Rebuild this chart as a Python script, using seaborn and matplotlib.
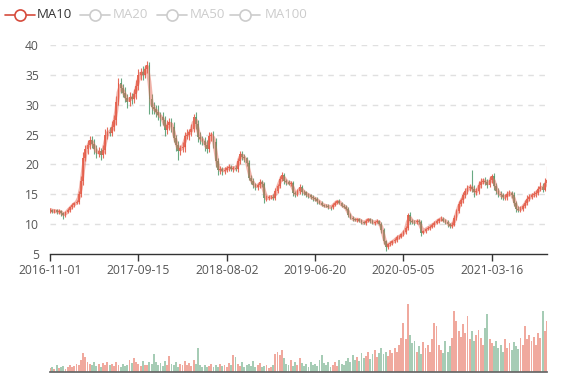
import numpy as np
import pandas as pd
import seaborn as sns
import matplotlib.pyplot as plt
from matplotlib.lines import Line2D

# weekly closes (one point ~ one week)
close = [
    12.4, 12.1, 12.3, 12.0, 12.2, 11.8, 11.5, 12.0, 12.4, 12.8,
    13.2, 13.5, 13.7, 15.0, 17.2, 21.0, 22.5, 23.2, 24.1, 23.5,
    22.6, 21.8, 22.2, 21.6, 22.4, 25.0, 25.5, 25.3, 26.3, 27.4,
    30.5, 33.6, 32.8, 32.0, 31.2, 30.4, 31.3, 30.9, 31.8, 33.2,
    35.0, 35.4, 35.0, 36.0, 36.7, 31.0, 29.6, 29.2, 28.8, 28.2,
    27.9, 27.4, 25.8, 26.6, 27.1, 26.3, 24.5, 23.2, 22.3, 22.7,
    22.9, 24.8, 25.0, 25.4, 26.0, 28.0, 26.8, 24.6, 24.2, 24.0,
    23.2, 22.6, 24.8, 25.0, 23.8, 20.5, 19.0, 19.2, 18.9, 19.1,
    19.4, 19.6, 19.3, 19.4, 19.2, 20.5, 21.8, 21.2, 21.0, 20.2,
    17.8, 17.2, 16.6, 16.2, 16.5, 17.0, 16.7, 14.3, 14.4, 14.5,
    14.6, 14.4, 15.6, 16.4, 17.6, 18.2, 17.3, 17.0, 16.8, 16.9,
    15.2, 15.0, 15.5, 16.2, 15.4, 15.3, 14.9, 14.8, 14.5, 14.3,
    14.2, 13.8, 13.6, 13.2, 13.1, 13.0, 12.9, 12.8, 13.2, 13.6,
    13.9, 13.5, 13.1, 12.9, 12.6, 11.5, 11.1, 10.8, 10.7, 10.8,
    10.6, 10.3, 10.2, 10.6, 10.8, 10.5, 10.2, 10.4, 10.5, 10.1,
    9.0, 7.2, 6.2, 6.6, 6.9, 7.1, 7.4, 7.8, 7.9, 8.3,
    8.7, 9.3, 11.5, 10.6, 10.4, 10.3, 10.5, 10.4, 8.6, 8.9,
    9.2, 9.4, 9.6, 9.9, 10.2, 10.5, 10.8, 10.9, 10.6, 10.4,
    10.0, 9.7, 9.9, 11.0, 12.2, 13.4, 14.0, 14.8, 15.5, 16.0,
    16.3, 15.9, 15.3, 15.5, 16.6, 17.1, 17.3, 17.0, 16.6, 17.4,
    18.0, 16.4, 15.6, 15.1, 14.8, 14.5, 14.6, 15.1, 15.2, 14.9,
    13.6, 12.6, 12.4, 12.6, 13.0, 13.6, 14.2, 14.6, 14.8, 15.0,
    15.2, 15.9, 16.3, 15.8, 16.9, 17.4,
]
first_open = 12.2

# wick lengths above the body top / below the body bottom
wick_up = [
    .3, .2, .3, .2, .3, .2, .3, .2, .3, .3,
    .3, .2, .3, .5, .8, 1.0, .8, .9, .6, .7,
    .8, .6, .7, .5, .8, .9, .7, .8, .9, .8,
    1.0, .9, .8, .7, .9, .6, .8, .7, .8, 1.0,
    .9, .8, 1.0, .7, .6, .5, .8, .9, .7, 1.2,
    .6, .8, .7, .9, .6, .7, .8, .5, .7, .6,
    .8, .7, .9, .6, .8, .5, .7, .6, .8, .5,
    .6, .9, .7, .5, .6, .7, .5, .6, .4, .5,
    .4, .5, .3, .4, .5, .6, .5, .4, .5, .3,
    .5, .4, .6, .3, .4, .5, .4, .3, .4, .3,
    .3, .4, .5, .4, .5, .5, .4, .3, .4, .3,
    .4, .3, .4, .6, .3, .3, .2, .3, .2, .3,
    .2, .3, .2, .3, .2, .2, .3, .2, .3, .3,
    .2, .3, .2, .2, .3, .2, .3, .2, .2, .3,
    .2, .3, .2, .3, .2, .2, .3, .2, .3, .2,
    .3, .3, .2, .3, .2, .3, .2, .3, .2, .3,
    .3, .4, .4, .5, .3, .3, .4, .3, .3, .2,
    .2, .3, .2, .3, .3, .4, .3, .4, .3, .2,
    .3, .2, .4, .5, .4, .5, .4, .6, .5, .6,
    .5, 2.8, .6, .5, .7, .6, .5, .6, .5, .6,
    .4, .6, .5, .4, .5, .4, .5, .4, .5, .4,
    .4, .3, .4, .5, .4, .5, .6, .5, .4, .5,
    .6, .5, .7, .6, .8, 2.3,
]
wick_dn = [
    .3, .3, .2, .3, .3, .4, .6, .3, .2, .3,
    .2, .3, .2, .3, .4, .6, .5, .7, .6, .8,
    .9, .7, .6, .8, .5, .6, .7, .5, .6, .7,
    .8, .6, .9, .7, .8, .9, .6, .7, .6, .8,
    .7, .9, .8, .6, .7, 2.5, 1.2, .8, .9, .7,
    1.5, .8, 1.0, .7, .8, .9, .7, 1.0, 1.5, .8,
    .7, .8, .6, .9, .7, .6, .8, .9, .7, .8,
    1.0, .7, .6, .8, 1.1, .9, .8, .6, .7, .5,
    .4, .5, .4, .5, .3, .4, .5, .4, .6, .5,
    .4, .5, .6, .4, .5, .4, .5, .7, .5, .4,
    .3, .4, .3, .4, .3, .4, .5, .4, .3, .4,
    .5, .4, .3, .4, .5, .4, .3, .4, .3, .4,
    .3, .4, .3, .2, .3, .2, .3, .4, .3, .2,
    .3, .2, .3, .2, .3, .3, .2, .3, .2, .3,
    .2, .3, .2, .3, .2, .3, .2, .3, .2, .3,
    .4, .5, .7, .4, .3, .4, .3, .4, .3, .2,
    .3, .4, .3, .5, .3, .4, .3, .4, .6, .3,
    .3, .2, .3, .2, .3, .2, .3, .2, .3, .3,
    .4, .3, .3, .2, .3, .4, .3, .4, .5, .4,
    .5, .6, .7, .5, .4, .5, .4, .5, .6, .4,
    .5, .7, .6, .5, .6, .5, .4, .5, .4, .5,
    .6, .5, .4, .3, .4, .3, .4, .3, .4, .3,
    .4, .3, .4, .5, .3, .4,
]

volume = [
    6, 8, 5, 10, 6, 7, 9, 5, 8, 11, 7, 9, 12, 10, 18,
    28, 22, 15, 12, 10, 14, 9, 12, 8, 13, 11, 15, 10, 12, 9,
    14, 10, 8, 12, 9, 11, 17, 13, 20, 15, 12, 9, 16, 11, 10,
    14, 12, 26, 15, 10, 13, 9, 16, 11, 24, 12, 10, 14, 8, 12,
    11, 16, 10, 13, 9, 18, 12, 35, 10, 8, 11, 7, 9, 12, 8,
    10, 7, 12, 9, 11, 8, 13, 10, 25, 22, 12, 9, 14, 8, 10,
    12, 9, 16, 8, 10, 13, 7, 9, 11, 6, 8, 10, 27, 30, 25,
    32, 20, 12, 10, 17, 9, 14, 11, 20, 13, 9, 12, 8, 15, 10,
    12, 9, 18, 25, 13, 10, 14, 8, 11, 15, 9, 18, 12, 10, 16,
    20, 14, 25, 18, 22, 16, 28, 20, 24, 30, 19, 26, 33, 22, 28,
    35, 27, 30, 24, 32, 28, 36, 30, 40, 50, 72, 48, 100, 55, 42,
    46, 30, 38, 26, 44, 35, 40, 30, 48, 72, 68, 40, 33, 28, 45,
    30, 38, 50, 89, 75, 60, 52, 70, 58, 82, 48, 60, 45, 55, 62,
    50, 40, 65, 85, 48, 42, 38, 45, 35, 40, 30, 48, 36, 42, 32,
    44, 38, 34, 50, 40, 67, 48, 55, 45, 52, 40, 58, 50, 89, 60, 75,
]

tick_labels = ['2016-11-01', '2017-09-15', '2018-08-02',
               '2019-06-20', '2020-05-05', '2021-03-16']
legend_names = ['MA10', 'MA20', 'MA50', 'MA100']

UP = '#e2543f'
DOWN = '#4f9a6c'
W, H = 577, 380

df = pd.DataFrame({'idx': np.arange(len(close)), 'close': close,
                   'volume': volume, 'wu': wick_up, 'wd': wick_dn})
df['open'] = df['close'].shift(1).fillna(first_open)
df['up'] = df['close'] >= df['open']
df['top'] = df[['open', 'close']].max(axis=1)
df['bot'] = df[['open', 'close']].min(axis=1)
df['high'] = df['top'] + df['wu']
df['low'] = df['bot'] - df['wd']
# one point per week -> 10 trading days = 2 points
df['ma10'] = df['close'].rolling(2, min_periods=1).mean()

sns.set_theme(style='white')
plt.rcParams['font.family'] = ['Open Sans', 'DejaVu Sans']

fig = plt.figure(figsize=(W / 100, H / 100), dpi=100)
ax = fig.add_axes([50 / W, 1 - 254 / H, 497 / W, 209 / H])
axv = fig.add_axes([50 / W, 1 - 372 / H, 497 / W, 68 / H], sharex=ax)

colors = np.where(df['up'], UP, DOWN)
ax.vlines(df['idx'], df['low'], df['high'], colors=colors, linewidth=0.8,
          alpha=0.85, zorder=3)
ax.bar(df['idx'], (df['top'] - df['bot']).clip(lower=0.12), bottom=df['bot'],
       width=0.8, color=colors, alpha=0.85, linewidth=0, zorder=3)
sns.lineplot(data=df, x='idx', y='ma10', ax=ax, color='#e66a58',
             alpha=0.5, linewidth=2.8, zorder=4, legend=False)

axv.bar(df['idx'], df['volume'], width=0.85, color=colors, alpha=0.5,
        linewidth=0)

# main axis styling
ax.set_xlim(0, len(close) - 1)
ax.set_ylim(5, 40)
ax.set_yticks(range(5, 41, 5))
for y in range(10, 41, 5):
    ax.axhline(y, color='#e0e0e0', linestyle=(0, (4, 4)), linewidth=1, zorder=1)
for s in ['top', 'right', 'left']:
    ax.spines[s].set_visible(False)
ax.spines['bottom'].set_color('#333333')
ax.spines['bottom'].set_linewidth(1)
ax.set_xticks(range(0, len(close), 40))
ax.set_xticklabels(tick_labels)
ax.tick_params(axis='x', length=5, width=1, color='#333333', direction='out',
               labelsize=8.7, labelcolor='#555555', pad=2, bottom=True)
ax.tick_params(axis='y', length=0, labelsize=8.7, labelcolor='#555555', pad=8)
ax.set_xlabel('')
ax.set_ylabel('')

# volume axis styling
axv.set_ylim(0, 100)
axv.set_yticks([])
for s in ['top', 'right', 'left']:
    axv.spines[s].set_visible(False)
axv.spines['bottom'].set_color('#666666')
axv.tick_params(axis='x', length=0, labelbottom=False)
axv.set_xlabel('')

# legend drawn by hand, only MA10 is active
icon_x = [5, 80, 157, 230]
text_x = [37, 113, 190, 265]
ly = 1 - 15 / H
for i, name in enumerate(legend_names):
    c = '#d64b3c' if i == 0 else '#cccccc'
    x0 = icon_x[i] / W
    fig.add_artist(Line2D([x0, x0 + 30 / W], [ly, ly], color=c, linewidth=1.2,
                          transform=fig.transFigure))
    fig.add_artist(Line2D([x0 + 15 / W], [ly], marker='o', markersize=8,
                          markerfacecolor='white', markeredgecolor=c,
                          markeredgewidth=1.2, transform=fig.transFigure))
    fig.text(text_x[i] / W, ly, name, va='center', ha='left', fontsize=9.5,
             color='#333333' if i == 0 else '#cccccc')

fig.savefig('out.png', dpi=100)
